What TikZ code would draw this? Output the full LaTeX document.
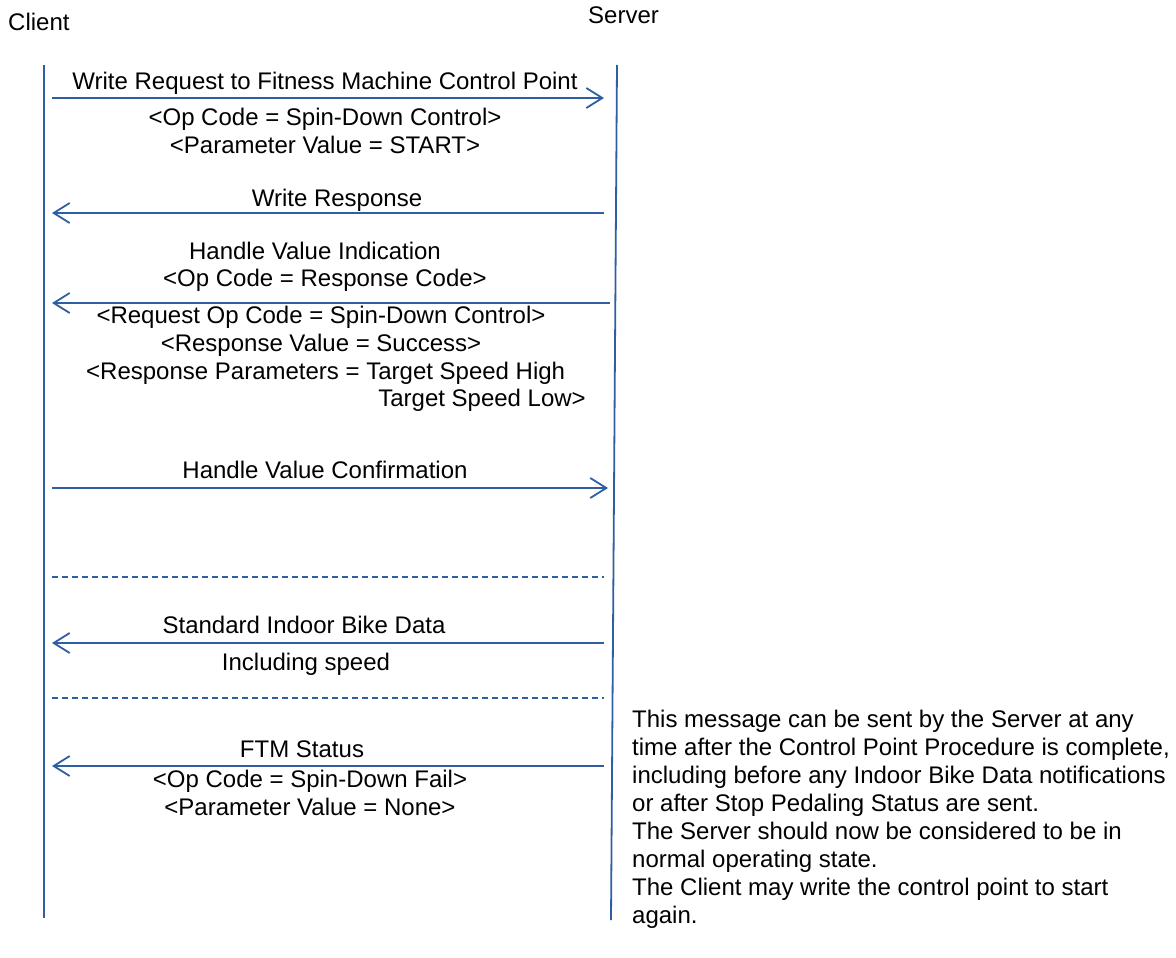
\documentclass[tikz,border=0pt]{standalone}
\usepackage{fontspec}
\setmainfont{Liberation Sans}
\usetikzlibrary{arrows.meta}
\definecolor{lblue}{RGB}{47,95,162}
\begin{document}
\begin{tikzpicture}[x=1pt,y=-1pt,
  lifeline/.style={draw=lblue,line width=1.8pt},
  msg/.style={draw=lblue,line width=1.8pt,-{Straight Barb[length=16pt,width=20pt,line width=1.8pt]}},
  sep/.style={draw=lblue,line width=1.4pt,dash pattern=on 6pt off 4pt},
  txt/.style={font=\fontsize{24}{28}\selectfont,inner sep=0pt,anchor=base},
  note/.style={font=\fontsize{24}{28}\selectfont,inner sep=0pt,anchor=north west,align=left}]
\useasboundingbox (0,0) rectangle (1176,958);
% participants
\node[txt,anchor=base west] (client) at (8,31) {Client};
\node[txt,anchor=base west] (server) at (588,24) {Server};
\coordinate (ct) at (44,65);
\coordinate (cb) at (44,918);
\coordinate (st) at (617,65);
\coordinate (sb) at (611,920);
\draw[lifeline] (ct) -- (cb);
\draw[lifeline] (st) -- (sb);
% message end points
\coordinate (c1) at (52,98);   \coordinate (s1) at (604,98);
\coordinate (c2) at (52,213);  \coordinate (s2) at (604,213);
\coordinate (c3) at (52,303);  \coordinate (s3) at (610,303);
\coordinate (c4) at (52,488);  \coordinate (s4) at (608,488);
\coordinate (d1a) at (52,577); \coordinate (d1b) at (604,577);
\coordinate (c5) at (52,643);  \coordinate (s5) at (604,643);
\coordinate (d2a) at (52,698); \coordinate (d2b) at (604,698);
\coordinate (c6) at (52,766);  \coordinate (s6) at (604,766);
\draw[msg] (c1) -- (s1);
\draw[msg] (s2) -- (c2);
\draw[msg] (s3) -- (c3);
\draw[msg] (c4) -- (s4);
\draw[sep] (d1a) -- (d1b);
\draw[msg] (s5) -- (c5);
\draw[sep] (d2a) -- (d2b);
\draw[msg] (s6) -- (c6);
% labels
\node[txt] (l1a) at (325,89) {Write Request to Fitness Machine Control Point};
\node[txt] (l1b) at (325,125) {<Op Code = Spin-Down Control>};
\node[txt] (l1c) at (325,153) {<Parameter Value = START>};
\node[txt] (l2) at (337,206) {Write Response};
\node[txt] (l3a) at (315,259) {Handle Value Indication};
\node[txt] (l3b) at (325,286) {<Op Code = Response Code>};
\node[txt] (l3c) at (321,323) {<Request Op Code = Spin-Down Control>};
\node[txt] (l3d) at (321,351) {<Response Value = Success>};
\node[txt,anchor=base west] (l3e) at (86,379) {<Response Parameters = Target Speed High};
\node[txt,anchor=base east] (l3f) at (586,406) {Target Speed Low>};
\node[txt] (l4) at (325,478) {Handle Value Confirmation};
\node[txt] (l5a) at (304,633) {Standard Indoor Bike Data};
\node[txt] (l5b) at (306,670) {Including speed};
\node[txt] (l6a) at (302,757) {FTM Status};
\node[txt] (l6b) at (310,787) {<Op Code = Spin-Down Fail>};
\node[txt] (l6c) at (310,815) {<Parameter Value = None>};
\node[note] (n) at (632,710) {This message can be sent by the Server at any\\
time after the Control Point Procedure is complete,\\
including before any Indoor Bike Data notifications\\
or after Stop Pedaling Status are sent.\\
The Server should now be considered to be in\\
normal operating state.\\
The Client may write the control point to start\\
again.};
\end{tikzpicture}
\end{document}
